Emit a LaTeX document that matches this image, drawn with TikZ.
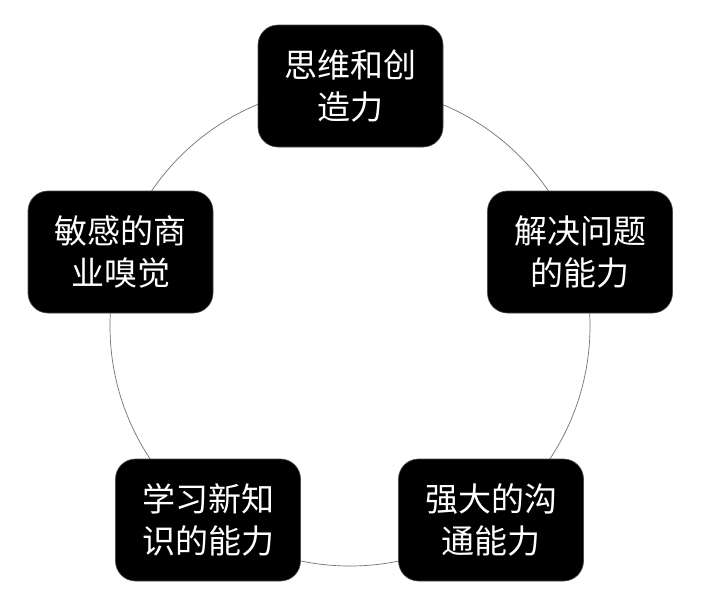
\documentclass[tikz,border=0pt]{standalone}
\usepackage{fontspec}
\newfontfamily\cjk{Noto Sans CJK SC}
\begin{document}
\begin{tikzpicture}[x=1pt,y=-1pt,
  skill/.style={fill=black,draw=black!70,line width=0.6pt,rounded corners=20pt,minimum width=185pt,minimum height=122pt,inner sep=0pt,text=white,align=center,font=\cjk\fontsize{33}{42}\selectfont},
  ring/.style={draw=black!55,line width=0.7pt,circle,minimum size=480pt,inner sep=0pt}]
\useasboundingbox (0,0) rectangle (703,608);
\fill[white] (0,0) rectangle (703,608);
\node[ring] (ring) at (350,326) {};
\node[skill] (top) at (350.5,86) {思维和创\\造力};
\node[skill] (left) at (120.5,252) {敏感的商\\业嗅觉};
\node[skill] (right) at (580,252) {解决问题\\的能力};
\node[skill] (bl) at (208,520) {学习新知\\识的能力};
\node[skill] (br) at (491,520) {强大的沟\\通能力};
\end{tikzpicture}
\end{document}
